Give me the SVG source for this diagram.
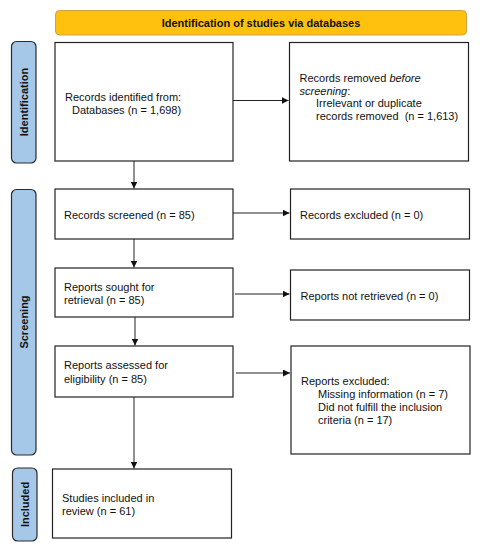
<svg xmlns="http://www.w3.org/2000/svg" width="482" height="550" viewBox="0 0 482 550">
<style>
text{font-family:"Liberation Sans",Arial,sans-serif;font-size:11px;fill:#111}
.b{fill:#fff;stroke:#222;stroke-width:1.2}
.side{fill:#a5c8e8;stroke:#2a2a2a;stroke-width:1.2}
.sl{font-weight:bold;text-anchor:middle}
.c{stroke:#222;stroke-width:1;fill:none;marker-end:url(#ah)}
</style>
<defs>
<marker id="ah" viewBox="0 0 10 10" refX="10" refY="5" markerWidth="7" markerHeight="7" orient="auto" markerUnits="userSpaceOnUse"><path d="M0,0L10,5L0,10z" fill="#111"/></marker>
</defs>
<rect width="482" height="550" fill="#fff"/>
<g id="header">
<rect x="55.5" y="10.5" width="411" height="24.5" rx="4" fill="#ffc10e" stroke="#d0a24a" stroke-width="1"/>
<text x="261" y="26.5" text-anchor="middle" font-weight="bold">Identification of studies via databases</text>
</g>
<g id="lbl-identification">
<rect class="side" x="11.5" y="41.5" width="24.5" height="121.5" rx="5"/>
<text class="sl" transform="translate(28,102) rotate(-90)">Identification</text>
</g>
<g id="lbl-screening">
<rect class="side" x="11.5" y="189.5" width="24.5" height="265.5" rx="5"/>
<text class="sl" transform="translate(28,322) rotate(-90)">Screening</text>
</g>
<g id="lbl-included">
<rect class="side" x="12.5" y="468" width="24.5" height="73" rx="5"/>
<text class="sl" transform="translate(29,504.5) rotate(-90)">Included</text>
</g>
<g id="identified">
<rect class="b" x="55" y="42.5" width="178" height="118.5"/>
<text x="65" y="101">Records identified from:</text>
<text x="72" y="114">Databases (n = 1,698)</text>
</g>
<g id="removed">
<rect class="b" x="289.5" y="42.5" width="179" height="118.5"/>
<text x="299.5" y="82">Records removed <tspan font-style="italic">before</tspan></text>
<text x="299.5" y="95"><tspan font-style="italic">screening</tspan>:</text>
<text x="316" y="107">Irrelevant or duplicate</text>
<text x="316" y="120" xml:space="preserve">records removed  (n = 1,613)</text>
</g>
<g id="screened">
<rect class="b" x="55" y="189" width="178" height="50"/>
<text x="64" y="219">Records screened (n = 85)</text>
</g>
<g id="excluded">
<rect class="b" x="290.5" y="189" width="179" height="50"/>
<text x="300" y="219">Records excluded (n = 0)</text>
</g>
<g id="sought">
<rect class="b" x="55" y="268" width="178" height="49"/>
<text x="64" y="291">Reports sought for</text>
<text x="64" y="303.5">retrieval (n = 85)</text>
</g>
<g id="notretrieved">
<rect class="b" x="290.5" y="270" width="179" height="50"/>
<text x="300.5" y="300">Reports not retrieved (n = 0)</text>
</g>
<g id="assessed">
<rect class="b" x="55" y="346" width="178" height="51"/>
<text x="64" y="369">Reports assessed for</text>
<text x="64" y="383">eligibility (n = 85)</text>
</g>
<g id="reportsexcluded">
<rect class="b" x="291" y="346" width="179" height="108"/>
<text x="301" y="385">Reports excluded:</text>
<text x="318" y="398">Missing information (n = 7)</text>
<text x="318" y="411">Did not fulfill the inclusion</text>
<text x="318" y="424">criteria (n = 17)</text>
</g>
<g id="included">
<rect class="b" x="52.5" y="469" width="179" height="69"/>
<text x="62" y="502">Studies included in</text>
<text x="62" y="514.5">review (n = 61)</text>
</g>
<g id="connectors">
<line class="c" x1="233" y1="100.5" x2="288.5" y2="100.5"/>
<line class="c" x1="134" y1="161" x2="134" y2="188.5"/>
<line class="c" x1="233" y1="213" x2="289.5" y2="213"/>
<line class="c" x1="134" y1="239" x2="134" y2="267.5"/>
<line class="c" x1="235" y1="294" x2="289.5" y2="294"/>
<line class="c" x1="135" y1="317" x2="135" y2="345.5"/>
<line class="c" x1="236" y1="373" x2="290" y2="373"/>
<line class="c" x1="134" y1="397" x2="134" y2="468.5"/>
</g>
</svg>
